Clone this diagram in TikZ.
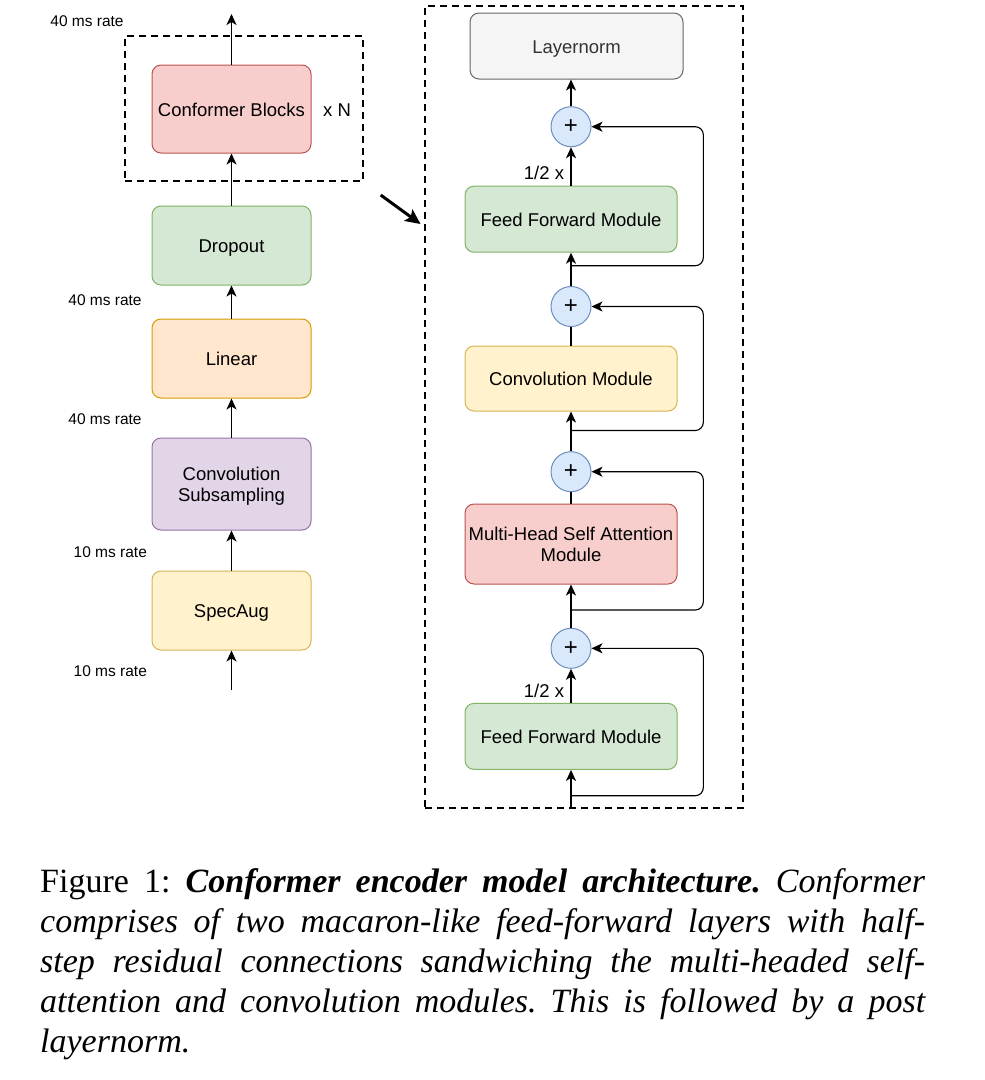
\documentclass[tikz,border=0pt]{standalone}
\usepackage{fontspec}
\setmainfont{Liberation Sans}
\newfontfamily\capfont{Liberation Serif}
\usetikzlibrary{arrows.meta}
\definecolor{redF}{HTML}{F8CECC}\definecolor{redD}{HTML}{B85450}
\definecolor{greenF}{HTML}{D5E8D4}\definecolor{greenD}{HTML}{82B366}
\definecolor{orangeF}{HTML}{FFE6CC}\definecolor{orangeD}{HTML}{D79B00}
\definecolor{purpleF}{HTML}{E1D5E7}\definecolor{purpleD}{HTML}{9673A6}
\definecolor{yellowF}{HTML}{FFF2CC}\definecolor{yellowD}{HTML}{D6B656}
\definecolor{grayF}{HTML}{F5F5F5}\definecolor{grayD}{HTML}{666666}
\definecolor{blueF}{HTML}{DAE8FC}\definecolor{blueD}{HTML}{6C8EBF}
\newcommand\tx[1]{\raisebox{-3pt}[\height][\depth]{\begin{tabular}{@{}c@{}}#1\end{tabular}}}
\begin{document}
\begin{tikzpicture}[x=1pt,y=-1pt,
  blk/.style={draw, rounded corners=9pt, line width=1pt, align=center, inner sep=2pt,
    font=\fontsize{18.5}{21}\selectfont},
  lblk/.style={blk, minimum width=159pt},
  rblk/.style={blk, minimum width=212pt},
  red/.style={fill=redF, draw=redD},
  green/.style={fill=greenF, draw=greenD},
  orange/.style={fill=orangeF, draw=orangeD},
  purple/.style={fill=purpleF, draw=purpleD},
  yellow/.style={fill=yellowF, draw=yellowD},
  gray/.style={fill=grayF, draw=grayD},
  plus/.style={circle, draw=blueD, fill=blueF, line width=1pt, minimum size=40pt, inner sep=0pt,
    font=\fontsize{24}{26}\selectfont},
  rate/.style={font=\fontsize{15.5}{18}\selectfont, inner sep=0pt},
  lab/.style={font=\fontsize{18.5}{22}\selectfont, inner sep=0pt},
  arr/.style={line width=1.6pt, -{Stealth[length=11pt,width=10pt,inset=3pt]}},
  ln/.style={line width=1.6pt},
  res/.style={line width=1.1pt, rounded corners=8pt, -{Stealth[length=11pt,width=10pt,inset=3pt]}},
  dbox/.style={draw, line width=2pt, dash pattern=on 7pt off 5pt},
]
\useasboundingbox (0,0) rectangle (985,1080);

% ---------- left column ----------
\node[lblk, red, minimum height=88pt] (cb) at (231.5,109) {\tx{Conformer Blocks}};
\node[lblk, green, minimum height=79pt] (drop) at (231.5,245.5) {\tx{Dropout}};
\node[lblk, orange, minimum height=79pt] (lin) at (231.5,358.5) {\tx{Linear}};
\node[lblk, purple, minimum height=92pt] (cs) at (231.5,484) {\tx{Convolution\\Subsampling}};
\node[lblk, yellow, minimum height=79pt] (spec) at (231.5,610.5) {\tx{SpecAug}};

\node[dbox, minimum width=238pt, minimum height=145pt, inner sep=0pt] (lbox) at (244.2,108.4) {};
\node[lab] (xn) at (337,110) {x N};

\coordinate (outL) at (231.5,14);
\coordinate (inL) at (231.5,690);
\draw[arr] (cb.north) -- (outL);
\draw[arr] (drop.north) -- (cb.south);
\draw[arr] (lin.north) -- (drop.south);
\draw[arr] (cs.north) -- (lin.south);
\draw[arr] (spec.north) -- (cs.south);
\draw[arr] (inL) -- (spec.south);

\node[rate] (r0) at (87,21) {40 ms rate};
\node[rate] (r1) at (105,300) {40 ms rate};
\node[rate] (r2) at (105,419) {40 ms rate};
\node[rate] (r3) at (110.3,552) {10 ms rate};
\node[rate] (r4) at (110.3,671) {10 ms rate};

% ---------- big arrow ----------
\coordinate (ba) at (380.7,195);
\coordinate (bb) at (420.5,224);
\draw[line width=3pt, -{Stealth[length=15pt,width=14pt,inset=3pt]}] (ba) -- (bb);

% ---------- right column ----------
\node[dbox, minimum width=318pt, minimum height=802pt, inner sep=0pt] (rbox) at (584,407.2) {};

\node[blk, gray, minimum width=213pt, minimum height=66pt, text=black!80] (ln) at (576.5,46) {\tx{Layernorm}};
\node[plus] (c1) at (571,126.7) {+};
\node[rblk, green, minimum height=66pt] (ff2) at (571,219.2) {\tx{Feed Forward Module}};
\node[plus] (c2) at (571,306.5) {+};
\node[rblk, yellow, minimum height=65pt] (conv) at (571,378.5) {\tx{Convolution Module}};
\node[plus] (c3) at (571,471.7) {+};
\node[rblk, red, minimum height=80pt] (mhsa) at (571,544) {\tx{Multi-Head Self Attention\\Module}};
\node[plus] (c4) at (571,648.3) {+};
\node[rblk, green, minimum height=66pt] (ff1) at (571,736.4) {\tx{Feed Forward Module}};

\node[lab] (h2) at (544,172.7) {1/2 x};
\node[lab] (h1) at (544,690.5) {1/2 x};

\coordinate (inR) at (571,808);
\draw[arr] (c1.north) -- (ln.south -| c1.north);
\draw[arr] (ff2.north) -- (c1.south);
\draw[arr] (c2.north) -- (ff2.south);
\draw[ln] (conv.north) -- (c2.south);
\draw[arr] (c3.north) -- (conv.south);
\draw[ln] (mhsa.north) -- (c3.south);
\draw[arr] (c4.north) -- (mhsa.south);
\draw[arr] (ff1.north) -- (c4.south);
\draw[arr] (inR) -- (ff1.south);

% residual connections
\coordinate (s1) at (571,265.7); \coordinate (k1) at (703.3,265.7);
\coordinate (s2) at (571,430.5); \coordinate (k2) at (703.3,430.5);
\coordinate (s3) at (571,610);   \coordinate (k3) at (703.3,610);
\coordinate (s4) at (571,795.7); \coordinate (k4) at (703.3,795.7);
\draw[res] (s1) -- (k1) |- (c1.east);
\draw[res] (s2) -- (k2) |- (c2.east);
\draw[res] (s3) -- (k3) |- (c3.east);
\draw[res] (s4) -- (k4) |- (c4.east);

% ---------- caption ----------
\node[anchor=north west, inner sep=0pt, text width=885pt, align=justify,
  font=\capfont\fontsize{34}{40}\selectfont\frenchspacing] (cap) at (40,868)
  {Figure 1: \textbf{\textit{Conformer encoder model architecture.}} \textit{Conformer\linebreak
   comprises of two macaron-like feed-forward layers with half-\linebreak
   step residual connections sandwiching the multi-headed self-\linebreak
   attention and convolution modules. This is followed by a post\linebreak
   layernorm.}};
\end{tikzpicture}
\end{document}
